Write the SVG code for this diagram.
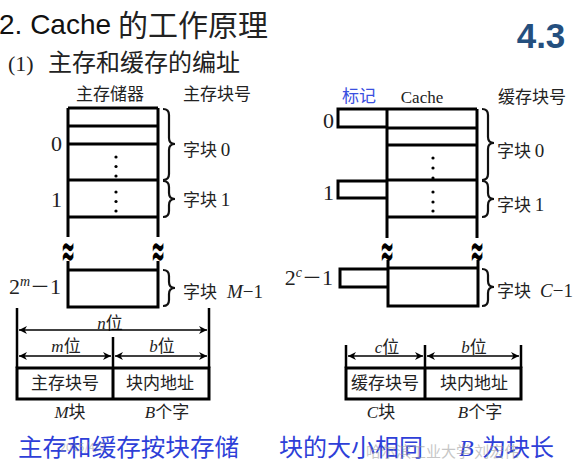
<svg xmlns="http://www.w3.org/2000/svg" width="585" height="463" viewBox="0 0 585 463">
<style>
.cjk{font-family:"Noto Sans CJK SC","Noto Sans",sans-serif;fill:#222}
.ser{font-family:"Liberation Serif","Noto Sans CJK SC",serif;fill:#222}
.it{font-style:italic}
.lbl{font-size:17px}
.num{font-size:22px}
.dg{font-family:"Liberation Serif",serif;font-size:19px}
.thick{stroke:#000;stroke-width:3;fill:none}
.med{stroke:#000;stroke-width:2.5;fill:none}
.arr{stroke:#000;stroke-width:1.6;fill:none;marker-start:url(#ah);marker-end:url(#ah)}
.brace{stroke:#111;stroke-width:2.2;fill:none}
.wave{font-family:"DejaVu Sans",sans-serif;font-size:28px;font-weight:bold;fill:#000;text-anchor:middle}
.blue{font-family:"Noto Sans CJK SC","Noto Sans",sans-serif;fill:#2E3FD8;font-size:24px}
.wm{font-family:"Noto Sans CJK SC","Noto Sans",sans-serif;fill:#999;opacity:0.55}
</style>
<defs>
<marker id="ah" viewBox="0 0 10 10" refX="10" refY="5" markerWidth="5" markerHeight="5" orient="auto-start-reverse" markerUnits="strokeWidth">
<path d="M0,0 L10,5 L0,10 L3,5 Z" fill="#000"/>
</marker>
</defs>
<rect width="585" height="463" fill="#fff"/>

<g id="title">
<text x="-1" y="34" font-family="Liberation Sans,Arial,sans-serif" font-size="28" fill="#111">2. Cache</text>
<text x="118" y="36" class="cjk" font-size="30" fill="#111">的工作原理</text>
<text x="8" y="71" class="ser" font-size="22">(1)</text>
<text x="48" y="71" class="cjk" font-size="24">主存和缓存的编址</text>
<text x="541" y="48" text-anchor="middle" font-family="Liberation Sans,Arial,sans-serif" font-weight="bold" font-size="35" fill="#244F7E">4.3</text>
</g>

<g id="main-memory">
<text x="110" y="100" text-anchor="middle" class="cjk lbl">主存储器</text>
<text x="217" y="100" text-anchor="middle" class="cjk lbl">主存块号</text>
<path class="thick" d="M68,108 V237 M158,108 V237 M68,108 H158 M68,126 H158 M68,144 H158 M68,180 H158 M68,217 H158"/>
<path class="thick" d="M68,261 V307 H158 V261 M68,270 H158"/>
<g fill="#000">
<circle cx="116" cy="157" r="1.6"/><circle cx="116" cy="166.5" r="1.6"/><circle cx="116" cy="176" r="1.6"/>
<circle cx="116" cy="192" r="1.6"/><circle cx="116" cy="201.5" r="1.6"/><circle cx="116" cy="211" r="1.6"/>
</g>
<text class="wave" transform="translate(68,266) scale(0.6,1.6)" x="0" y="0">≈</text>
<text class="wave" transform="translate(158,266) scale(0.6,1.6)" x="0" y="0">≈</text>
<text x="62" y="151" text-anchor="end" class="ser num">0</text>
<text x="62" y="207" text-anchor="end" class="ser num">1</text>
<text x="61" y="294" text-anchor="end" class="ser num">2<tspan class="it" font-size="14" dy="-8">m</tspan><tspan dy="8" class="cjk" font-size="20">－</tspan>1</text>
<path class="brace" d="M163,109 Q169,109 169,115 V138 Q169,144 175,144 Q169,144 169,150 V174 Q169,180 163,180"/>
<path class="brace" d="M163,181 Q169,181 169,187 V193 Q169,199 175,199 Q169,199 169,205 V211 Q169,217 163,217"/>
<path class="brace" d="M163,270 Q169,270 169,276 V282 Q169,288 175,288 Q169,288 169,294 V300 Q169,306 163,306"/>
<text x="183" y="156" class="cjk lbl">字块 <tspan class="dg">0</tspan></text>
<text x="183" y="206" class="cjk lbl">字块 <tspan class="dg">1</tspan></text>
<text x="183" y="298" class="cjk lbl">字块<tspan class="dg it" dx="10">M</tspan><tspan class="dg">−1</tspan></text>
</g>

<g id="cache">
<text x="359" y="102" text-anchor="middle" class="cjk lbl" style="fill:#3A4FE0">标记</text>
<text x="422" y="103" text-anchor="middle" class="ser" font-size="17">Cache</text>
<text x="532" y="103" text-anchor="middle" class="cjk lbl">缓存块号</text>
<path class="thick" d="M387,109 V238 M477,109 V238 M387,109 H477 M387,128 H477 M387,145 H477 M387,180 H477 M387,217 H477"/>
<path class="thick" d="M387,109 H338 V127 H387 M387,181 H338 V198 H387"/>
<path class="thick" d="M388,260 V306 H478 V260 M388,268 H478 M388,269 H340 V287 H388"/>
<g fill="#000">
<circle cx="433" cy="158" r="1.6"/><circle cx="433" cy="168" r="1.6"/><circle cx="433" cy="178" r="1.6"/>
<circle cx="433" cy="192" r="1.6"/><circle cx="433" cy="202" r="1.6"/><circle cx="433" cy="211" r="1.6"/>
</g>
<text class="wave" transform="translate(387,266) scale(0.6,1.6)" x="0" y="0">≈</text>
<text class="wave" transform="translate(477,266) scale(0.6,1.6)" x="0" y="0">≈</text>
<text x="334" y="128" text-anchor="end" class="ser num">0</text>
<text x="334" y="200" text-anchor="end" class="ser num">1</text>
<text x="333" y="285" text-anchor="end" class="ser num">2<tspan class="it" font-size="14" dy="-8">c</tspan><tspan dy="8" class="cjk" font-size="20">－</tspan>1</text>
<path class="brace" d="M482,109 Q488,109 488,115 V137 Q488,143 494,143 Q488,143 488,149 V174 Q488,180 482,180"/>
<path class="brace" d="M482,181 Q488,181 488,187 V193 Q488,199 494,199 Q488,199 488,205 V211 Q488,217 482,217"/>
<path class="brace" d="M482,269 Q488,269 488,275 V281 Q488,287 494,287 Q488,287 488,293 V300 Q488,306 482,306"/>
<text x="497" y="157" class="cjk lbl">字块 <tspan class="dg">0</tspan></text>
<text x="497" y="211" class="cjk lbl">字块 <tspan class="dg">1</tspan></text>
<text x="497" y="297" class="cjk lbl">字块<tspan class="dg it" dx="9">C</tspan><tspan class="dg">−1</tspan></text>
</g>

<g id="main-address">
<path class="med" d="M17,308 V368 M209,308 V368 M113,337 V368"/>
<path class="thick" d="M17,368 H209 V399 H17 Z M113,368 V399"/>
<text x="110" y="329" text-anchor="middle" class="ser lbl"><tspan class="it">n</tspan><tspan class="cjk">位</tspan></text>
<text x="66" y="352" text-anchor="middle" class="ser lbl"><tspan class="it">m</tspan><tspan class="cjk">位</tspan></text>
<text x="162" y="352" text-anchor="middle" class="ser lbl"><tspan class="it">b</tspan><tspan class="cjk">位</tspan></text>
<text x="65" y="389" text-anchor="middle" class="cjk lbl">主存块号</text>
<text x="160" y="389" text-anchor="middle" class="cjk lbl">块内地址</text>
<text x="70" y="418" text-anchor="middle" class="ser lbl"><tspan class="it">M</tspan><tspan class="cjk">块</tspan></text>
<text x="167" y="418" text-anchor="middle" class="ser lbl"><tspan class="it">B</tspan><tspan class="cjk">个字</tspan></text>
</g>

<g id="cache-address">
<path class="med" d="M346,345 V368 M425,345 V368 M521,345 V368"/>
<path class="thick" d="M346,368 H521 V399 H346 Z M425,368 V399"/>
<text x="387" y="353" text-anchor="middle" class="ser lbl"><tspan class="it">c</tspan><tspan class="cjk">位</tspan></text>
<text x="474" y="353" text-anchor="middle" class="ser lbl"><tspan class="it">b</tspan><tspan class="cjk">位</tspan></text>
<text x="385" y="389" text-anchor="middle" class="cjk lbl">缓存块号</text>
<text x="474" y="389" text-anchor="middle" class="cjk lbl">块内地址</text>
<text x="381" y="418" text-anchor="middle" class="ser lbl"><tspan class="it">C</tspan><tspan class="cjk">块</tspan></text>
<text x="480" y="418" text-anchor="middle" class="ser lbl"><tspan class="it">B</tspan><tspan class="cjk">个字</tspan></text>
</g>

<g id="connectors">
<line class="arr" x1="19" y1="330" x2="207" y2="330"/>
<line class="arr" x1="19" y1="356" x2="111" y2="356"/>
<line class="arr" x1="115" y1="356" x2="207" y2="356"/>
<line class="arr" x1="348" y1="356" x2="423" y2="356"/>
<line class="arr" x1="427" y1="356" x2="519" y2="356"/>
</g>

<g id="footer">
<text x="18" y="456" class="blue" textLength="221" lengthAdjust="spacingAndGlyphs">主存和缓存按块存储</text>
<text x="279" y="456" class="blue">块的大小相同</text>
<text x="459" y="456" class="blue" style="font-family:'Liberation Serif',serif;font-style:italic">B</text>
<text x="482" y="456" class="blue">为块长</text>
<text x="60" y="451" class="wm" font-size="11">2015/4/2</text>
<text x="366" y="457" class="wm" font-size="15">哈尔滨工业大学 刘宏伟</text>
</g>
</svg>
